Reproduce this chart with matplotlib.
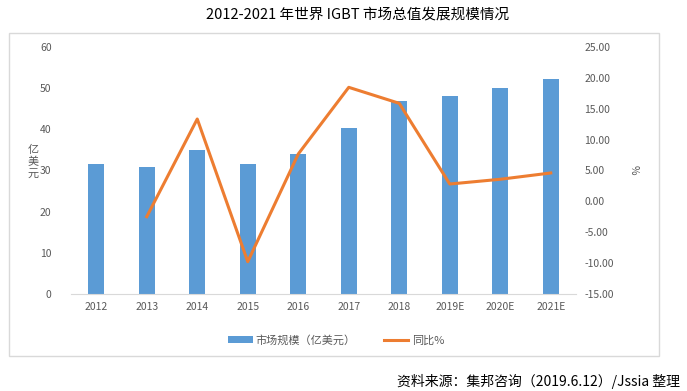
import matplotlib
matplotlib.use("Agg")
import matplotlib.pyplot as plt
from matplotlib.patches import Rectangle
from matplotlib.lines import Line2D
from matplotlib.patches import Patch

plt.rcParams['font.family'] = ['Noto Sans CJK SC', 'DejaVu Sans']

years = ['2012', '2013', '2014', '2015', '2016', '2017', '2018', '2019E', '2020E', '2021E']
market = [31.6, 30.8, 35.0, 31.6, 34.0, 40.3, 46.9, 48.1, 50.0, 52.2]
yoy_years = years[1:]
yoy = [-2.48, 13.34, -9.77, 7.67, 18.47, 15.88, 2.81, 3.58, 4.6]

left_ticks = [0, 10, 20, 30, 40, 50, 60]
right_ticks = [-15, -10, -5, 0, 5, 10, 15, 20, 25]

bar_color = '#5B9BD5'
line_color = '#ED7D31'
tick_color = '#595959'

W, H = 687, 391
fig = plt.figure(figsize=(W / 100, H / 100), dpi=100)

# outer border box
fig.patches.append(Rectangle((9 / W, 1 - 356 / H), (659 - 9) / W, (356 - 33) / H,
                             transform=fig.transFigure, fill=False,
                             edgecolor='#d9d9d9', linewidth=1.0))

ax = fig.add_axes([71 / W, 1 - 294 / H, 505 / W, 247 / H])
x = list(range(len(years)))
ax.bar(x, market, width=0.32, color=bar_color, zorder=2)
ax.set_xlim(-0.5, len(years) - 0.5)
ax.set_ylim(0, 60)
ax.set_yticks(left_ticks)
ax.set_xticks(x)
ax.set_xticklabels(years)
for s in ['top', 'right', 'left']:
    ax.spines[s].set_visible(False)
ax.spines['bottom'].set_color('#d9d9d9')
ax.tick_params(axis='both', length=0, labelsize=7.5, colors=tick_color)
ax.tick_params(axis='x', pad=6)
ax.tick_params(axis='y', pad=14)

ax2 = ax.twinx()
xi = [years.index(y) for y in yoy_years]
ax2.plot(xi, yoy, color=line_color, linewidth=2.2, zorder=3)
ax2.set_ylim(-15, 25)
ax2.set_yticks(right_ticks)
ax2.set_yticklabels([f'{v:.2f}' for v in right_ticks])
for s in ['top', 'right', 'left', 'bottom']:
    ax2.spines[s].set_visible(False)
ax2.tick_params(axis='y', length=0, labelsize=7.5, colors=tick_color, pad=6)

# axis labels (stacked characters)
for i, ch in enumerate('亿美元'):
    fig.text(33 / W, 1 - (150 + i * 12) / H, ch, ha='center', va='center',
             fontsize=8, color=tick_color)
fig.text(634 / W, 1 - 170 / H, '%', ha='center', va='center', fontsize=7.5,
         color=tick_color, rotation=-90)

# title
fig.text(358 / W, 1 - 15 / H, '2012-2021 年世界 IGBT 市场总值发展规模情况',
         ha='center', va='center', fontsize=10.5, color='black')

# legend
handles = [Patch(facecolor=bar_color, edgecolor='none'),
           Line2D([0], [0], color=line_color, linewidth=2.2)]
fig.legend(handles, ['市场规模（亿美元）', '同比%'], loc='center',
           bbox_to_anchor=(336 / W, 1 - 340 / H), ncol=2, frameon=False,
           fontsize=8, labelcolor=tick_color, handlelength=2.2, handleheight=0.6,
           columnspacing=2.5, handletextpad=0.3)

# source
fig.text(680 / W, 1 - 381 / H, '资料来源：集邦咨询（2019.6.12）/Jssia 整理',
         ha='right', va='center', fontsize=10, color='black')

fig.savefig('out.png', dpi=100)
